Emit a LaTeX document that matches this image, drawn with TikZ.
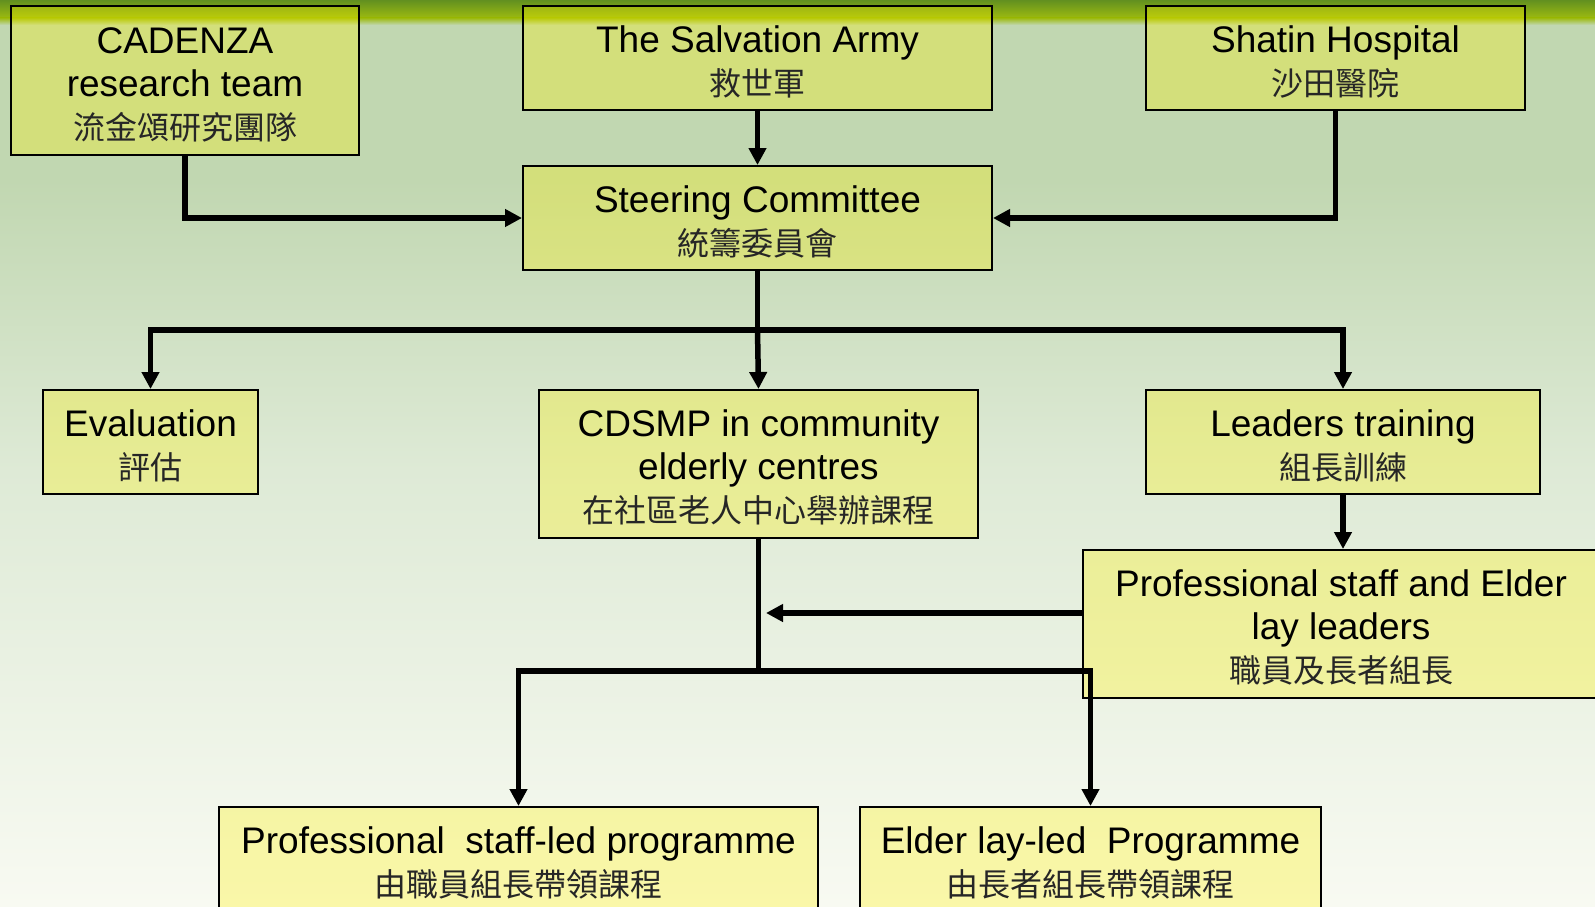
\documentclass[tikz,border=0pt]{standalone}
\usepackage{fontspec}
\setmainfont{Liberation Sans}
\newfontfamily\cjk{Noto Sans CJK TC}
\usepackage{xcolor}
\usepackage{tikz}
\usetikzlibrary{arrows.meta}
\definecolor{bar-dark}{RGB}{98, 144, 32}
\definecolor{bar-light}{RGB}{156, 186, 16}
\definecolor{bg-top}{RGB}{193, 215, 177}
\definecolor{bg-mid}{RGB}{222, 234, 214}
\definecolor{bg-low}{RGB}{248, 250, 242}
\newcommand{\zh}[1]{{\cjk\fontsize{32}{43}\selectfont\color{black!85}#1}}
\newcommand{\lift}{\rule{0pt}{34pt}}

\begin{document}
\begin{tikzpicture}[x = 1pt, y = -1pt,
    box/.style = {draw = black, line width = 2pt, fill = yellow, fill opacity = 0.3,
      text opacity = 1, align = center, inner sep = 0pt,
      font = \fontsize{37}{43}\selectfont},
    link/.style = {line width = 5.5pt, -{Triangle[width = 17pt, length = 17pt]}},
    bus/.style = {line width = 5.5pt}]
          \useasboundingbox (0, 0) rectangle (1595, 907);
          \clip (0, 0) rectangle (1595, 907);

          % background
          \fill[bg-top] (0, 0) rectangle (1595, 180);
          \shade[top color = bg-top, bottom color = bg-mid] (0, 180) rectangle (1595, 470);
          \shade[top color = bg-mid, bottom color = bg-low] (0, 470) rectangle (1595, 907);
          \shade[top color = bar-dark, bottom color = bar-light] (0, 0) rectangle (1595, 18);
          \shade[top color = bar-light, bottom color = bg-top] (0, 18) rectangle (1595, 25);

          % boxes
          \node[box, minimum width = 348pt, minimum height = 149pt] (cadenza) at (185, 80.5)
            {\lift CADENZA\\research team\\\zh{流金頌研究團隊}};
          \node[box, minimum width = 469pt, minimum height = 104pt] (salvation) at (757.5, 58)
            {\lift The Salvation Army\\\zh{救世軍}};
          \node[box, minimum width = 379pt, minimum height = 104pt] (shatin) at (1335.5, 58)
            {\lift Shatin Hospital\\\zh{沙田醫院}};
          \node[box, minimum width = 469pt, minimum height = 104pt] (steering) at (757.5, 218)
            {\lift Steering Committee\\\zh{統籌委員會}};
          \node[box, minimum width = 215pt, minimum height = 104pt] (evaluation) at (150.5, 442)
            {\lift Evaluation\\\zh{評估}};
          \node[box, minimum width = 439pt, minimum height = 148pt] (cdsmp) at (758.5, 464)
            {\lift CDSMP in community\\elderly centres\\\zh{在社區老人中心舉辦課程}};
          \node[box, minimum width = 394pt, minimum height = 104pt] (leaders) at (1343, 442)
            {\lift Leaders training\\\zh{組長訓練}};
          \node[box, minimum width = 516pt, minimum height = 148pt] (profelder) at (1341, 624)
            {\lift Professional staff and Elder\\lay leaders\\\zh{職員及長者組長}};
          \node[box, minimum width = 599pt, minimum height = 104pt] (proled) at (518.5, 859)
            {\lift Professional~ staff-led programme\\\zh{由職員組長帶領課程}};
          \node[box, minimum width = 461pt, minimum height = 104pt] (elderled) at (1090.5, 859)
            {\lift Elder lay-led~ Programme\\\zh{由長者組長帶領課程}};

          \coordinate (bus-top) at (757.5, 330);
          \coordinate (bus-low) at (758.5, 671);
          \coordinate (join) at (766, 613);

          % connectors
          \draw[link] (cadenza.south) |- (steering.west);
          \draw[link] (salvation.south) -- (steering.north);
          \draw[link] (shatin.south) |- (steering.east);
          \draw[bus] (steering.south) -- (bus-top);
          \draw[link] (bus-top) -| (evaluation.north);
          \draw[link] (bus-top) -- (cdsmp.north);
          \draw[link] (bus-top) -| (leaders.north);
          \draw[link] (leaders.south) -- (leaders.south |- profelder.north);
          \draw[link] ([yshift = 11pt]profelder.west) -- (join);
          \draw[bus] (cdsmp.south) -- (bus-low);
          \draw[link] (bus-low) -| (proled.north);
          \draw[link] (bus-low) -| (elderled.north);
        \end{tikzpicture}
\end{document}
